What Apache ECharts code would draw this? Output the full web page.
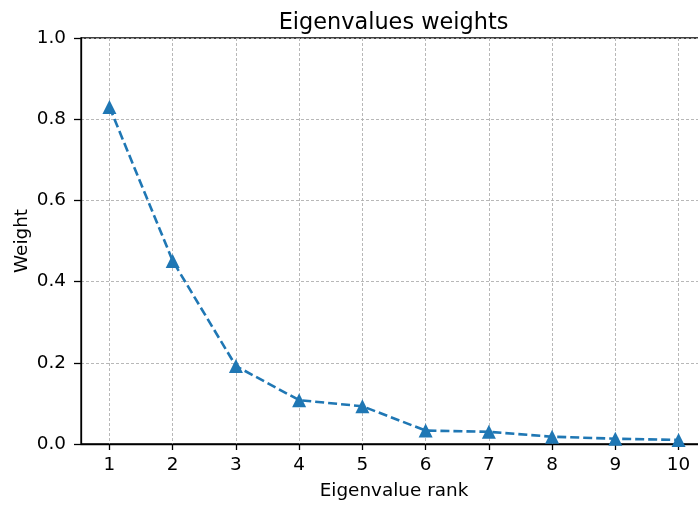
<!DOCTYPE html>
<html>
<head>
<meta charset="utf-8">
<script src="https://cdn.jsdelivr.net/npm/echarts@6/dist/echarts.min.js"></script>
<style>html,body{margin:0;padding:0;background:#fff}#chart{width:698px;height:505px}</style>
</head>
<body>
<div id="chart"></div>
<script>
// Eigenvalue ranks and their normalised weights
const ranks = [1, 2, 3, 4, 5, 6, 7, 8, 9, 10];
const weights = [0.830, 0.451, 0.192, 0.108, 0.093, 0.033, 0.030, 0.018, 0.013, 0.010];
const yTicks = [0, 0.2, 0.4, 0.6, 0.8, 1.0];

const font = '"DejaVu Sans", sans-serif';
const labelSize = 18.4;
const chart = echarts.init(document.getElementById('chart'), null, {renderer: 'canvas'});
chart.setOption({
  animation: false,
  backgroundColor: '#fff',
  title: {
    text: 'Eigenvalues weights',
    left: 388.5, top: 7, textAlign: 'center',
    textStyle: {fontFamily: font, fontSize: 22.4, fontWeight: 'normal', color: '#000'}
  },
  grid: {
    left: 81, top: 38, width: 626, height: 406,
    outerBoundsMode: 'none',
    containLabel: false,
    show: true, borderColor: '#000', borderWidth: 1.3, backgroundColor: 'transparent'
  },
  xAxis: {
    type: 'value', min: 0.55, max: 10.45,
    name: 'Eigenvalue rank', nameLocation: 'middle', nameGap: 38,
    nameTextStyle: {fontFamily: font, fontSize: labelSize, color: '#000'},
    axisLine: {lineStyle: {color: '#000', width: 1.3}},
    axisTick: {show: true, length: 6, customValues: ranks, lineStyle: {color: '#000', width: 1.3}},
    axisLabel: {customValues: ranks, fontFamily: font, fontSize: labelSize, color: '#000', margin: 12},
    splitLine: {show: true, lineStyle: {color: '#b0b0b0', type: [3, 2], width: 0.9}}
  },
  yAxis: {
    type: 'value', min: 0, max: 1, interval: 0.2,
    name: 'Weight', nameLocation: 'middle', nameGap: 50, nameRotate: 90,
    nameMoveOverlap: false,
    nameTextStyle: {fontFamily: font, fontSize: labelSize, color: '#000'},
    axisLine: {show: true, lineStyle: {color: '#000', width: 1.3}},
    axisTick: {show: true, length: 7, customValues: yTicks, lineStyle: {color: '#000', width: 1.3}},
    axisLabel: {customValues: yTicks, fontFamily: font, fontSize: labelSize, color: '#000', margin: 15,
      formatter: v => v.toFixed(1)},
    splitLine: {show: true, lineStyle: {color: '#b0b0b0', type: [3, 2], width: 0.9}}
  },
  series: [{
    type: 'line',
    data: ranks.map((r, i) => [r, weights[i]]),
    symbol: 'triangle', symbolSize: 14,
    itemStyle: {color: '#1f77b4'},
    lineStyle: {color: '#1f77b4', width: 2.6, type: [9, 4]},
    clip: false
  }]
});
</script>
</body>
</html>
